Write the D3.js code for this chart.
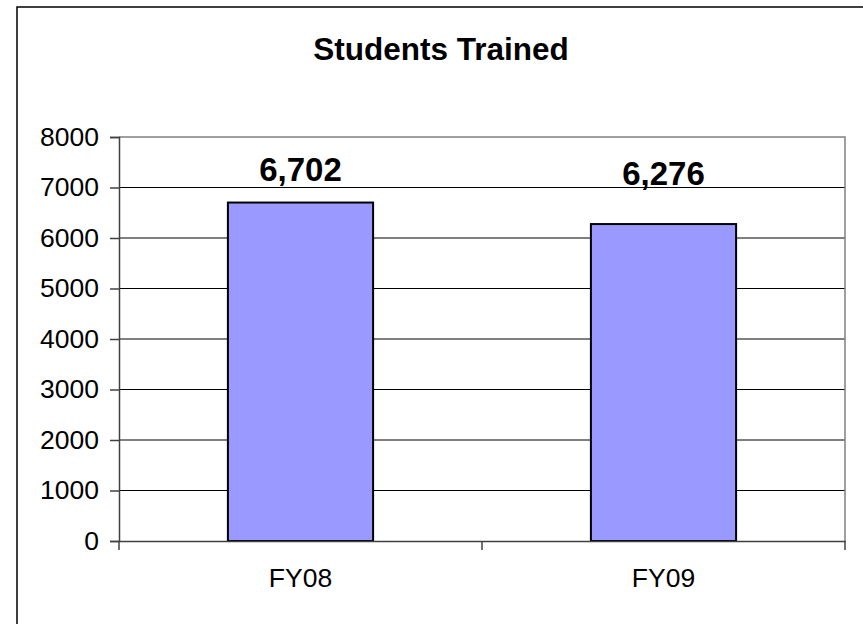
<!DOCTYPE html>
<html>
<head>
<meta charset="utf-8">
<script src="https://cdn.jsdelivr.net/npm/d3@7"></script>
<style>
  body { margin: 0; background: #fff; }
  svg { display: block; font-family: "Liberation Sans", Arial, sans-serif; }
</style>
</head>
<body>
<div id="chart"></div>
<script>
// chart data
var categories = ["FY08", "FY09"];
var students = [6702, 6276];
var valueLabels = ["6,702", "6,276"];
var yTicks = [0, 1000, 2000, 3000, 4000, 5000, 6000, 7000, 8000];
var chartTitle = "Students Trained";

var svgWidth = 863;
var svgHeight = 624;

var plot = { left: 119, top: 137, right: 845, bottom: 541 };

var svg = d3.select("#chart")
  .append("svg")
  .attr("width", svgWidth)
  .attr("height", svgHeight);

// outer chart frame (runs off the page on right and bottom)
svg.append("rect")
  .attr("x", 17)
  .attr("y", 7)
  .attr("width", 1000)
  .attr("height", 800)
  .attr("fill", "#fff")
  .attr("stroke", "#000")
  .attr("stroke-width", 1.5);

svg.append("text")
  .attr("x", 441)
  .attr("y", 60)
  .attr("text-anchor", "middle")
  .attr("font-size", 31.5)
  .attr("font-weight", "bold")
  .text(chartTitle);

// scales
var xScale = d3.scaleBand()
  .domain(categories)
  .range([plot.left, plot.right]);

var yScale = d3.scaleLinear()
  .domain([0, 8000])
  .range([plot.bottom, plot.top]);

// gridlines
svg.append("g")
  .selectAll("line")
  .data(yTicks.filter(d => d > 0 && d < 8000))
  .enter()
  .append("line")
  .attr("x1", plot.left)
  .attr("x2", plot.right)
  .attr("y1", d => yScale(d))
  .attr("y2", d => yScale(d))
  .attr("stroke", "#000")
  .attr("stroke-width", 1);

// plot area border (top and right)
svg.append("path")
  .attr("d", `M${plot.left},${yScale(8000)}H${plot.right}V${plot.bottom}`)
  .attr("fill", "none")
  .attr("stroke", "#808080")
  .attr("stroke-width", 1.5);

// bars
var bw = xScale.bandwidth();
var barW = bw / 2.5;

svg.append("g")
  .selectAll("rect")
  .data(students)
  .enter()
  .append("rect")
  .attr("x", (d, i) => xScale(categories[i]) + (bw - barW) / 2)
  .attr("y", d => yScale(d))
  .attr("width", barW)
  .attr("height", d => yScale(0) - yScale(d))
  .attr("fill", "#9999FF")
  .attr("stroke", "#000")
  .attr("stroke-width", 2);

// data labels
var labelGap = [22, 39];
svg.append("g")
  .selectAll("text")
  .data(students)
  .enter()
  .append("text")
  .attr("x", (d, i) => xScale(categories[i]) + bw / 2)
  .attr("y", (d, i) => yScale(d) - labelGap[i])
  .attr("text-anchor", "middle")
  .attr("font-size", 33)
  .attr("font-weight", "bold")
  .text((d, i) => valueLabels[i]);

// y axis
var leftAxis = d3.axisLeft(yScale)
  .tickValues(yTicks)
  .tickFormat(d3.format("d"))
  .tickSize(9)
  .tickPadding(11);

var yAxis = svg.append("g")
  .attr("transform", `translate(${plot.left},0)`)
  .call(leftAxis);
yAxis.select(".domain").attr("stroke", "#404040").attr("stroke-width", 1.5);
yAxis.selectAll(".tick line").attr("stroke", "#404040").attr("stroke-width", 1.5);
yAxis.selectAll("text")
  .attr("font-size", 26.5)
  .attr("font-family", "Liberation Sans, Arial, sans-serif")
  .attr("fill", "#000");

// x axis
var bottomAxis = d3.axisBottom(xScale)
  .tickSize(0)
  .tickPadding(27);

var xAxis = svg.append("g")
  .attr("transform", `translate(0,${plot.bottom})`)
  .call(bottomAxis);
xAxis.select(".domain").attr("stroke", "#404040").attr("stroke-width", 1.5);
xAxis.selectAll("text")
  .attr("font-size", 26.5)
  .attr("font-family", "Liberation Sans, Arial, sans-serif")
  .attr("fill", "#000");

// category boundary ticks
var boundaries = categories.map(c => xScale(c)).concat([plot.right]);
xAxis.selectAll(".bound")
  .data(boundaries)
  .enter()
  .append("line")
  .attr("class", "bound")
  .attr("x1", d => d)
  .attr("x2", d => d)
  .attr("y1", 0)
  .attr("y2", 9)
  .attr("stroke", "#404040")
  .attr("stroke-width", 1.5);
</script>
</body>
</html>
